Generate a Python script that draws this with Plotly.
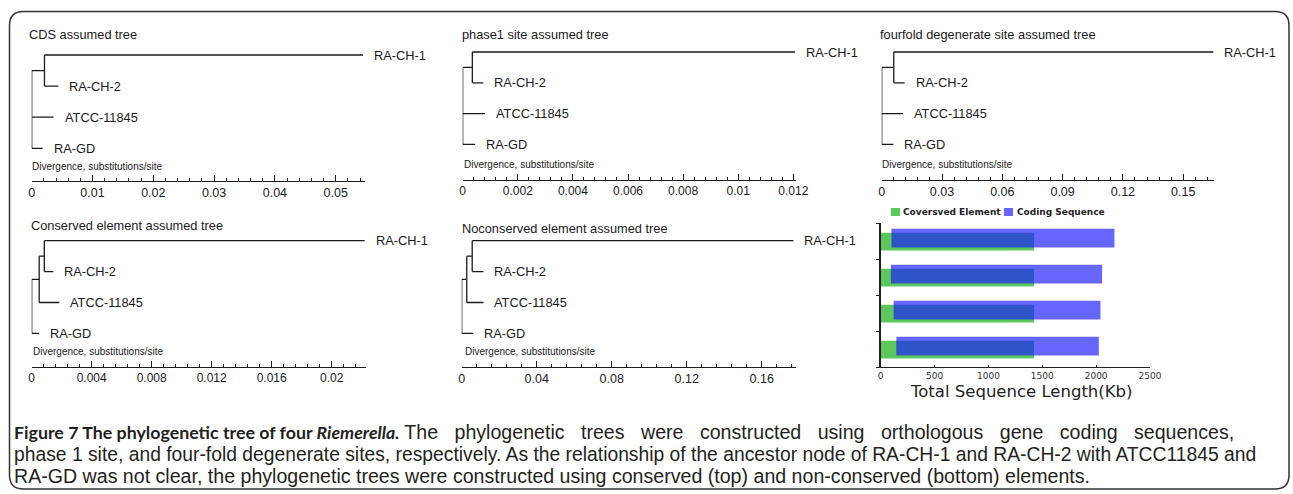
import plotly.graph_objects as go

W, H = 1293, 494

TAXA = ["RA-CH-1", "RA-CH-2", "ATCC-11845", "RA-GD"]

# Tip depths (substitutions/site), in TAXA order; internal node depths in pre-order (root = 0)
cds_tip = [0.0545, 0.0044, 0.0036, 0.0018]
cds_node = [0.0021]
phase1_tip = [0.01206, 0.00075, 0.00081, 0.00045]
phase1_node = [0.00035]
fourfold_tip = [0.165, 0.0114, 0.0106, 0.0058]
fourfold_node = [0.006]
conserved_tip = [0.0222, 0.00144, 0.00184, 0.0005]
conserved_node = [0.0005, 0.00084]
nonconserved_tip = [0.1769, 0.0116, 0.0116, 0.0062]
nonconserved_node = [0.0027, 0.0056]

# Topologies as nested lists of taxon indices
polytomy = [[0, 1], 2, 3]
nested = [[[0, 1], 2], 3]

# Sequence lengths (Kb) per genome row
genome_rows = [1, 2, 3, 4]
conserved_len = [1423, 1423, 1423, 1423]
coding_start = [100, 95, 120, 145]
coding_end = [2170, 2055, 2040, 2025]
length_ticks = [0, 500, 1000, 1500, 2000, 2500]

ARIAL = "Liberation Sans, Arial, sans-serif"
VERDANA = "DejaVu Sans, Verdana, sans-serif"
INK = "#1a1a1a"


def px(x):
    return x / W


def py(y):
    return 1 - y / H


def tree_segments(topo, tips, nodes):
    xs, ys = [], []
    depth = iter(nodes)

    def seg(x0, y0, x1, y1):
        xs.extend([x0, x1, None])
        ys.extend([y0, y1, None])

    def walk(n, parent_x):
        if isinstance(n, int):
            seg(parent_x, n, tips[n], n)
            return n
        x = 0.0 if parent_x is None else next(depth)
        cy = [walk(c, x) for c in n]
        seg(x, min(cy), x, max(cy))
        y = (min(cy) + max(cy)) / 2
        if parent_x is not None:
            seg(parent_x, y, x, y)
        return y

    walk(topo, None)
    return xs, ys


panels = [
    dict(title="CDS assumed tree", tips=cds_tip, nodes=cds_node, topo=polytomy,
         x0=31.7, scale=6080, xend=364.5, row0=55, step=31.1, base=180.5,
         dtick=0.01, minor=0.002, tick_size=12.5, tx=27, ty=35, dx=30, dy=166.5),
    dict(title="phase1 site assumed tree", tips=phase1_tip, nodes=phase1_node, topo=polytomy,
         x0=462.7, scale=27550, xend=796, row0=52, step=30.8, base=180,
         dtick=0.002, minor=0.0004, tick_size=12, tx=460, ty=35, dx=462, dy=164.5),
    dict(title="fourfold degenerate site assumed tree", tips=fourfold_tip, nodes=fourfold_node, topo=polytomy,
         x0=881.7, scale=2010, xend=1214, row0=52, step=30.8, base=180,
         dtick=0.03, minor=0.006, tick_size=12.5, tx=878, ty=35, dx=880, dy=164.5),
    dict(title="Conserved element assumed tree", tips=conserved_tip, nodes=conserved_node, topo=nested,
         x0=31.7, scale=15000, xend=365.5, row0=240.7, step=30.9, base=367,
         dtick=0.004, minor=0.0008, tick_size=12, tx=29, ty=225, dx=31, dy=351.7),
    dict(title="Noconserved element assumed tree", tips=nonconserved_tip, nodes=nonconserved_node, topo=nested,
         x0=461.7, scale=1875, xend=795.5, row0=240.7, step=30.9, base=367,
         dtick=0.04, minor=0.008, tick_size=12.5, tx=460, ty=228, dx=463, dy=351.7),
]

fig = go.Figure()
annotations = []
shapes = []
layout_axes = {}

for k, p in enumerate(panels, start=1):
    xs, ys = tree_segments(p["topo"], p["tips"], p["nodes"])
    fig.add_trace(go.Scatter(x=xs, y=ys, mode="lines", line=dict(color=INK, width=1.3),
                             xaxis=f"x{k}", yaxis=f"y{k}", showlegend=False, hoverinfo="skip",
                             cliponaxis=False))
    top = p["row0"] - 22
    layout_axes[f"xaxis{k}"] = dict(
        domain=[px(p["x0"]), px(p["xend"])], range=[0, (p["xend"] - p["x0"]) / p["scale"]],
        anchor=f"y{k}", showline=True, linecolor=INK, linewidth=1,
        ticks="inside", ticklen=6, tickwidth=1, tickcolor=INK, tick0=0, dtick=p["dtick"],
        minor=dict(ticks="inside", ticklen=3, tickwidth=1, tickcolor=INK, tick0=0, dtick=p["minor"], showgrid=False),
        showgrid=False, zeroline=False, tickfont=dict(family=ARIAL, size=p["tick_size"], color=INK),
    )
    layout_axes[f"yaxis{k}"] = dict(
        domain=[py(p["base"]), py(top)],
        range=[(p["base"] - p["row0"]) / p["step"], (top - p["row0"]) / p["step"]],
        anchor=f"x{k}", visible=False,
    )
    for i, name in enumerate(TAXA):
        annotations.append(dict(x=p["tips"][i], y=i, xref=f"x{k}", yref=f"y{k}", text=name,
                                xanchor="left", yanchor="middle", xshift=9, showarrow=False,
                                font=dict(family=ARIAL, size=12.8, color=INK)))
    annotations.append(dict(x=px(p["tx"]), y=py(p["ty"]), xref="paper", yref="paper", text=p["title"],
                            xanchor="left", yanchor="middle", showarrow=False,
                            font=dict(family=ARIAL, size=12.8, color=INK)))
    annotations.append(dict(x=px(p["dx"]), y=py(p["dy"]), xref="paper", yref="paper",
                            text="Divergence, substitutions/site",
                            xanchor="left", yanchor="middle", showarrow=False,
                            font=dict(family=ARIAL, size=10, color=INK)))

# Bar panel: conserved element vs coding sequence length
GREEN = "#5cc85c"
BLUE = "rgba(26,26,255,0.667)"
fig.add_trace(go.Bar(y=genome_rows, x=conserved_len, orientation="h", width=0.49, offset=-0.235,
                     marker=dict(color=GREEN, line=dict(width=0)), xaxis="x6", yaxis="y6",
                     showlegend=False, name="Coversved Element"))
fig.add_trace(go.Bar(y=genome_rows, x=[e - s for s, e in zip(coding_start, coding_end)], base=coding_start,
                     orientation="h", width=0.52, offset=-0.35,
                     marker=dict(color=BLUE, line=dict(width=0)), xaxis="x6", yaxis="y6",
                     showlegend=False, name="Coding Sequence"))

layout_axes["xaxis6"] = dict(
    domain=[px(880.7), px(1150)], range=[0, 2500], anchor="y6", tickvals=length_ticks,
    showline=True, linecolor="#222", linewidth=1, ticks="inside", ticklen=2, tickcolor="#222",
    showgrid=False, zeroline=False, tickfont=dict(family=VERDANA, size=9, color="#333"),
)
layout_axes["yaxis6"] = dict(
    domain=[py(367.3), py(223.3)], range=[4.5, 0.5], anchor="x6",
    tickvals=[0.5, 1.5, 2.5, 3.5, 4.5], showticklabels=False, ticks="outside", ticklen=3,
    tickcolor="#222", showline=True, linecolor="#222", linewidth=1.5, showgrid=False, zeroline=False,
)
annotations.append(dict(x=px(1021), y=py(391), xref="paper", yref="paper", text="Total Sequence Length(Kb)",
                        xanchor="center", yanchor="middle", showarrow=False,
                        font=dict(family=VERDANA, size=16.5, color="#222")))

# Legend swatches and labels
for (x0, x1, color, label, tx) in [(891, 900, GREEN, "Coversved Element", 901),
                                   (1004, 1013, "#6666ff", "Coding Sequence", 1015)]:
    shapes.append(dict(type="rect", xref="paper", yref="paper", x0=px(x0), x1=px(x1),
                       y0=py(216), y1=py(208), fillcolor=color, line=dict(width=0)))
    annotations.append(dict(x=px(tx), y=py(212), xref="paper", yref="paper", text=f"<b>{label}</b>",
                            xanchor="left", yanchor="middle", showarrow=False,
                            font=dict(family=VERDANA, size=9, color="#222")))

# Rounded frame
bx0, bx1, by0, by1, r = 9.5, 1289, 11.5, 489, 14
pts = [("M", bx0 + r, by0), ("L", bx1 - r, by0), ("Q", bx1, by0, bx1, by0 + r), ("L", bx1, by1 - r),
       ("Q", bx1, by1, bx1 - r, by1), ("L", bx0 + r, by1), ("Q", bx0, by1, bx0, by1 - r),
       ("L", bx0, by0 + r), ("Q", bx0, by0, bx0 + r, by0)]
path = ""
for cmd in pts:
    coords = cmd[1:]
    pairs = [f"{px(coords[j]):.6f},{py(coords[j + 1]):.6f}" for j in range(0, len(coords), 2)]
    path += cmd[0] + " ".join(pairs) + " "
shapes.append(dict(type="path", xref="paper", yref="paper", path=path + "Z",
                   line=dict(color="#333", width=1.5)))

# Caption: one text block; the first (justified) line gets wider word gaps
GAP = " \u00a0\u2009\u200a"
head = ('<span style="font-family:Lato, sans-serif;font-size:17.8px"><b>Figure 7 The phylogenetic tree '
        'of four <i>Riemerella.</i></b></span>')
body = [
    GAP.join("The phylogenetic trees were constructed using orthologous gene coding sequences,".split(" ")),
    "phase 1 site, and four-fold degenerate sites, respectively. As the relationship of the ancestor node of "
    "RA-CH-1 and RA-CH-2 with ATCC11845 and",
    "RA-GD was not clear, the phylogenetic trees were constructed using conserved (top) and non-conserved "
    "(bottom) elements.",
]
body_sizes = [19.6, 19.3, 19.6]
sized = [f'<span style="font-size:{s}px">{t}</span>' for t, s in zip(body, body_sizes)]
caption = head + " " + "<br>".join(sized)
annotations.append(dict(x=px(12), y=py(454), xref="paper", yref="paper", text=caption,
                        xanchor="left", yanchor="middle", align="left", showarrow=False,
                        font=dict(family=ARIAL, size=17, color="#231f20")))

fig.update_layout(
    width=W, height=H, autosize=False, margin=dict(l=0, r=0, t=0, b=0, pad=0, autoexpand=False),
    paper_bgcolor="white", plot_bgcolor="rgba(0,0,0,0)",
    barmode="overlay", showlegend=False,
    annotations=annotations, shapes=shapes, **layout_axes,
)

fig.write_html("out.html", config={"responsive": False})
